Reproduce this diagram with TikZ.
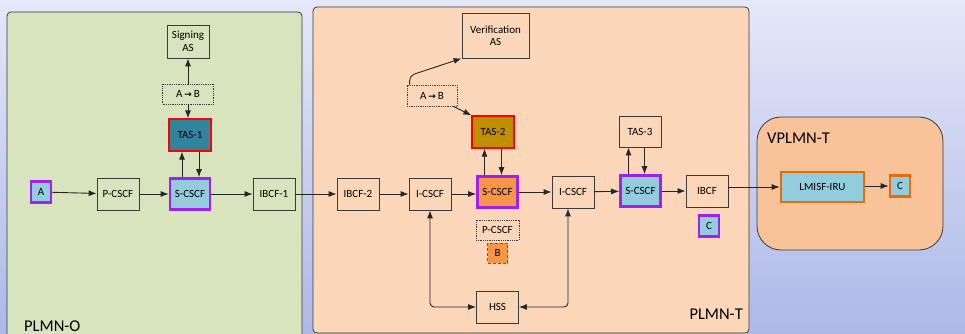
\documentclass[tikz,border=0pt]{standalone}
\usepackage{fontspec}
\setmainfont{Carlito}
\newfontfamily\symfont{DejaVu Sans}
\usetikzlibrary{arrows.meta, positioning}
\definecolor{bgtop}{HTML}{E5E8F8}
\definecolor{bgbot}{HTML}{ADB8E7}
\definecolor{pgreen}{HTML}{D7E4BE}
\definecolor{ppeach}{HTML}{FBD6B9}
\definecolor{pvisit}{HTML}{F9C399}
\definecolor{mdark}{HTML}{3A3A3A}
\definecolor{lblue}{HTML}{93CDDD}
\definecolor{teal}{HTML}{31849B}
\definecolor{gold}{HTML}{BF8F00}
\definecolor{morange}{HTML}{F79646}
\definecolor{mpurple}{HTML}{A020F0}
\definecolor{dorange}{HTML}{E46C0A}
\tikzset{
  nbox/.style={draw=mdark, line width=0.8pt, minimum width=42pt, minimum height=32pt,
               inner sep=1pt, align=center, font=\fontsize{11}{12.5}\selectfont},
  ubox/.style={nbox, draw=mpurple, fill=lblue, line width=2.6pt,
               minimum width=40pt, minimum height=31pt},
  tbox/.style={nbox, draw=red, line width=1.3pt},
  obox/.style={nbox, draw=dorange, fill=lblue, line width=2.6pt},
  dbox/.style={nbox, densely dotted, minimum height=20pt},
  smallbox/.style={nbox, minimum width=20pt, minimum height=21pt},
  panel/.style={draw=mdark, line width=0.8pt},
  plabel/.style={font=\fontsize{16.5}{18}\selectfont, inner sep=0pt},
  arr/.style={-{Latex[length=8pt,width=6pt]}, line width=0.9pt, draw=black!85},
  barr/.style={{Latex[length=8pt,width=6pt]}-{Latex[length=8pt,width=6pt]},
               line width=0.9pt, draw=black!85, rounded corners=4pt},
}
\newcommand{\atob}{A\,{\symfont\bfseries\fontsize{9}{10}\selectfont →}\,B}

\begin{document}
\begin{tikzpicture}[x=1pt, y=-1pt]
  \useasboundingbox (0,0) rectangle (965,334);
  \clip (0,0) rectangle (965,334);
  \shade[top color=bgtop, bottom color=bgbot] (0,0) rectangle (965,334);

  \draw[panel, fill=pgreen, rounded corners=4pt] (7,12) rectangle (302,345);
  \draw[panel, fill=ppeach, rounded corners=4pt] (313,7) rectangle (749,333);
  \draw[panel, fill=pvisit, rounded corners=24pt] (757,117) rectangle (943,250);

  \node[plabel, anchor=base west] (lblo) at (24,331) {PLMN-O};
  \node[plabel, anchor=base east] (lblt) at (743,319) {PLMN-T};
  \node[plabel, anchor=base west] (lblv) at (767,143) {VPLMN-T};

  % originating side
  \node[nbox, minimum height=33pt] (sign) at (188,41.5) {Signing\\AS};
  \node[dbox, minimum width=51pt] (ab1) at (188,94) {\atob};
  \node[tbox, fill=teal] (tas1) at (190,135) {TAS-1};
  \node[smallbox, draw=mpurple, fill=lblue, line width=2.6pt] (ua) at (41,192) {A};
  \node[nbox] (pcscf1) at (118,194) {P-CSCF};
  \node[ubox] (scscf1) at (190,194) {S-CSCF};
  \node[nbox] (ibcf1) at (274,194) {IBCF-1};

  % terminating side
  \node[nbox, minimum width=67pt, minimum height=45pt] (verif) at (495.5,35.5) {Verification\\AS};
  \node[dbox, minimum width=50pt, minimum height=21pt] (ab2) at (432,95.5) {\atob};
  \node[tbox, fill=gold] (tas2) at (493,132) {TAS-2};
  \node[nbox] (ibcf2) at (358,194) {IBCF-2};
  \node[nbox] (icscf1) at (430,194) {I-CSCF};
  \node[ubox, fill=morange] (scscf2) at (497.5,192) {S-CSCF};
  \node[nbox] (icscf2) at (573,192) {I-CSCF};
  \node[dbox, minimum width=43pt] (pcscf2) at (497.5,230) {P-CSCF};
  \node[smallbox, draw=mpurple, fill=morange, densely dashed, line width=1pt,
        minimum height=20pt] (ub) at (497.5,253) {B};
  \node[nbox] (hss) at (497.5,307) {HSS};
  \node[nbox, minimum height=31pt] (tas3) at (640,131.5) {TAS-3};
  \node[ubox] (scscf3) at (640.5,191) {S-CSCF};
  \node[nbox] (ibcf3) at (707,191) {IBCF};
  \node[smallbox, draw=mpurple, fill=lblue, line width=2.6pt] (uc1) at (709,226) {C};

  % visited network
  \node[obox, minimum width=83pt, minimum height=30pt] (lmisf) at (822.5,187) {LMISF-IRU};
  \node[smallbox, draw=dorange, fill=lblue, line width=2.6pt] (uc2) at (900,186) {C};

  \draw[arr] (ua) -- (pcscf1);
  \draw[arr] (pcscf1) -- (scscf1);
  \draw[arr] (scscf1) -- (ibcf1);
  \draw[arr] (ibcf1) -- (ibcf2);
  \draw[arr] (ibcf2) -- (icscf1);
  \draw[arr] (icscf1) -- (scscf2.west |- icscf1);
  \draw[arr] (scscf2) -- (icscf2);
  \draw[arr] (icscf2) -- (scscf3);
  \draw[arr] (scscf3) -- (ibcf3);
  \draw[arr] (ibcf3.east |- lmisf.west) -- (lmisf.west);
  \draw[arr] (lmisf.east |- uc2.west) -- (uc2.west);

  \draw[arr] ([xshift=-8pt]scscf1.north) -- ([xshift=-8pt]scscf1.north |- tas1.south);
  \draw[arr] ([xshift=9pt]scscf1.north |- tas1.south) -- ([xshift=9pt]scscf1.north);
  \draw[arr] (ab1.south) -- (ab1.south |- tas1.north);
  \draw[arr] (ab1) -- (sign);

  \draw[arr] ([xshift=-13pt]scscf2.north) -- ([xshift=-13pt]scscf2.north |- tas2.south);
  \draw[arr] ([xshift=4pt]scscf2.north |- tas2.south) -- ([xshift=4pt]scscf2.north);
  \draw[arr] ([xshift=-4pt]ab2.south east) -- (tas2.north west);
  \draw[arr, rounded corners=5pt] ([xshift=3pt]ab2.north west) -- ++(0,-9) -- (verif.south west);

  \draw[arr] ([xshift=-12pt]scscf3.north) -- ([xshift=-12pt]scscf3.north |- tas3.south);
  \draw[arr] ([xshift=4pt]scscf3.north |- tas3.south) -- ([xshift=4pt]scscf3.north);

  \draw[barr] (icscf1.south) |- (hss.west);
  \draw[barr] ([xshift=-5pt]icscf2.south) |- (hss.east);
\end{tikzpicture}
\end{document}
